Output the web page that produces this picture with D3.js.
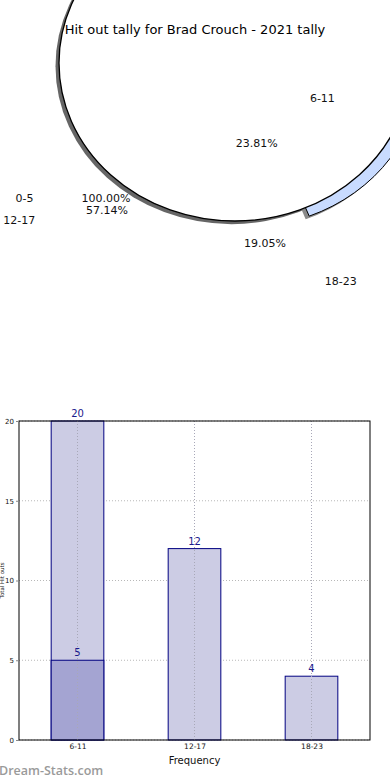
<!DOCTYPE html>
<html>
<head>
<meta charset="utf-8">
<script src="https://cdn.jsdelivr.net/npm/d3@7"></script>
<style>
  html, body { margin: 0; padding: 0; background: #fff; }
  svg { display: block; font-family: "DejaVu Sans", sans-serif; }
</style>
</head>
<body>
<div id="container"></div>
<script>
// chart data
const title = 'Hit out tally for Brad Crouch - 2021 tally';
const pieLabels = ['6-11', '12-17', '18-23'];
const pieValues = [5, 12, 4];
const totalLabel = '0-5';
const pieColors = ['#ffffff', '#ffffff', '#c8dbff'];

const barCats = ['6-11', '12-17', '18-23'];
const barValues = [20, 12, 4];
const overlayValues = [5, null, null];
const yTicks = [0, 5, 10, 15, 20];

const W = 390, H = 780;
const svg = d3.select('#container').append('svg')
    .attr('width', W).attr('height', H);

// ---------- pie (drawn squashed, like the original) ----------
const pie = d3.pie().sort(null)
    .startAngle(Math.PI / 2).endAngle(-1.5 * Math.PI);
const full = { startAngle: Math.PI / 2, endAngle: -1.5 * Math.PI, data: 1 };
const slices = pie(pieValues);
const total = d3.sum(pieValues);
const pct = d3.format('.2%');

// wedge geometry
const wedge = { cx: 235, cy: 63, r: 176, ry: 158, explode: 12 };
const arc = d3.arc().innerRadius(0).outerRadius(wedge.r);
const shadowOff = [-3.5, 3.5];

const pg = svg.append('g')
    .attr('transform', `translate(${wedge.cx},${wedge.cy}) scale(1,${wedge.ry / wedge.r})`);

function explodeShift(d, amt) {
  const a = (d.startAngle + d.endAngle) / 2;
  return [amt * Math.sin(a), -amt * Math.cos(a)];
}

const blue = slices[2];
const bs = explodeShift(blue, wedge.explode);

// shadows
pg.append('path').attr('d', arc(full))
    .attr('transform', `translate(${shadowOff[0]},${shadowOff[1]})`)
    .attr('fill', '#666');
pg.append('path').attr('d', arc(blue))
    .attr('transform', `translate(${bs[0] + shadowOff[0]},${bs[1] + shadowOff[1]})`)
    .attr('fill', '#8a8a8a');
// exploded slice
pg.append('path').attr('d', arc(blue))
    .attr('transform', `translate(${bs[0]},${bs[1]})`)
    .attr('fill', pieColors[2])
    .attr('stroke', '#000').attr('stroke-width', 1)
    .attr('vector-effect', 'non-scaling-stroke');
// full white wedge on top
pg.append('path').attr('d', arc(full))
    .attr('fill', '#fff')
    .attr('stroke', '#000').attr('stroke-width', 1.3)
    .attr('vector-effect', 'non-scaling-stroke');

// labels (placed around a different centre, as in the picture)
const lab = { cx: 193, cy: 198, rx: 145, ry: 134 };
const allSlices = [{ ...full, label: totalLabel, frac: 1 }]
    .concat(slices.map((d, i) => ({ ...d, label: pieLabels[i], frac: d.value / total })));

allSlices.forEach(d => {
  const a = (d.startAngle + d.endAngle) / 2;
  const sx = Math.sin(a), sy = -Math.cos(a);
  svg.append('text')
      .attr('x', lab.cx + 1.1 * lab.rx * sx)
      .attr('y', lab.cy + 1.1 * lab.ry * sy)
      .attr('dy', '0.35em')
      .attr('text-anchor', sx > 0 ? 'start' : 'end')
      .attr('font-size', 11).attr('fill', '#111')
      .text(d.label);
  svg.append('text')
      .attr('x', lab.cx + 0.6 * lab.rx * sx)
      .attr('y', lab.cy + 0.6 * lab.ry * sy)
      .attr('dy', '0.35em')
      .attr('text-anchor', 'middle')
      .attr('font-size', 11).attr('fill', '#111')
      .text(pct(d.frac));
});

svg.append('text')
    .attr('x', 195).attr('y', 34)
    .attr('text-anchor', 'middle')
    .attr('font-size', 13).attr('fill', '#000')
    .text(title);

// ---------- bar chart ----------
const m = { left: 19, right: 370, top: 421, bottom: 740 };
const x = d3.scaleLinear().domain([-0.5, barCats.length - 0.5]).range([m.left, m.right]);
const y = d3.scaleLinear().domain([0, 20]).range([m.bottom, m.top]);
const bw = (x(1) - x(0)) * 0.45;

const bg = svg.append('g');

// horizontal grid
bg.selectAll('.hg').data(yTicks).enter().append('line')
    .attr('x1', m.left).attr('x2', m.right)
    .attr('y1', d => y(d)).attr('y2', d => y(d))
    .attr('stroke', '#b8b8b8').attr('stroke-dasharray', '1,2');

// bars
bg.selectAll('.bar').data(barValues).enter().append('rect')
    .attr('x', (d, i) => x(i) - bw / 2)
    .attr('y', d => y(d))
    .attr('width', bw)
    .attr('height', d => y(0) - y(d))
    .attr('fill', '#ccccE4')
    .attr('stroke', '#000080').attr('stroke-width', 1);

overlayValues.forEach((v, i) => {
  if (v == null) return;
  bg.append('rect')
      .attr('x', x(i) - bw / 2)
      .attr('y', y(v))
      .attr('width', bw)
      .attr('height', y(0) - y(v))
      .attr('fill', '#a4a4d2')
      .attr('stroke', '#000080').attr('stroke-width', 1);
});

// vertical grid over the bars
bg.selectAll('.vg').data(barCats).enter().append('line')
    .attr('x1', (d, i) => x(i)).attr('x2', (d, i) => x(i))
    .attr('y1', m.top).attr('y2', m.bottom)
    .attr('stroke', '#a8a8b8').attr('stroke-dasharray', '1,2');

// value labels
bg.selectAll('.vl').data(barValues).enter().append('text')
    .attr('x', (d, i) => x(i)).attr('y', d => y(d) - 4)
    .attr('text-anchor', 'middle')
    .attr('font-size', 10).attr('fill', '#1a1a8c')
    .text(d => d);
overlayValues.forEach((v, i) => {
  if (v == null) return;
  bg.append('text')
      .attr('x', x(i)).attr('y', y(v) - 4)
      .attr('text-anchor', 'middle')
      .attr('font-size', 10).attr('fill', '#1a1a8c')
      .text(v);
});

// frame
bg.append('rect')
    .attr('x', m.left).attr('y', m.top)
    .attr('width', m.right - m.left).attr('height', m.bottom - m.top)
    .attr('fill', 'none').attr('stroke', '#000').attr('stroke-width', 1);

// axes
const yAxis = d3.axisLeft(y).tickValues(yTicks).tickSize(3).tickPadding(2);
bg.append('g').attr('transform', `translate(${m.left},0)`).call(yAxis)
    .call(g => g.select('.domain').remove())
    .call(g => g.selectAll('line').attr('stroke', '#888'))
    .call(g => g.selectAll('text').attr('font-size', 7).attr('font-family', 'DejaVu Sans').attr('fill', '#111'));

const xAxis = d3.axisBottom(x).tickValues(d3.range(barCats.length))
    .tickFormat(i => barCats[i]).tickSize(0).tickPadding(4);
bg.append('g').attr('transform', `translate(0,${m.bottom})`).call(xAxis)
    .call(g => g.select('.domain').remove())
    .call(g => g.selectAll('text').attr('font-size', 7.5).attr('font-family', 'DejaVu Sans').attr('fill', '#111'));

svg.append('text')
    .attr('x', x(1)).attr('y', 764)
    .attr('text-anchor', 'middle')
    .attr('font-size', 10).attr('fill', '#111')
    .text('Frequency');

svg.append('text')
    .attr('transform', `translate(4,${(m.top + m.bottom) / 2}) rotate(-90)`)
    .attr('text-anchor', 'middle')
    .attr('font-size', 5.5).attr('fill', '#111')
    .text('Total Hit outs');

svg.append('text')
    .attr('x', -1).attr('y', 775)
    .attr('font-family', '"Open Sans", sans-serif')
    .attr('font-weight', 600)
    .attr('font-size', 12.5).attr('fill', '#9a9a9a')
    .text('Dream-Stats.com');
</script>
</body>
</html>
